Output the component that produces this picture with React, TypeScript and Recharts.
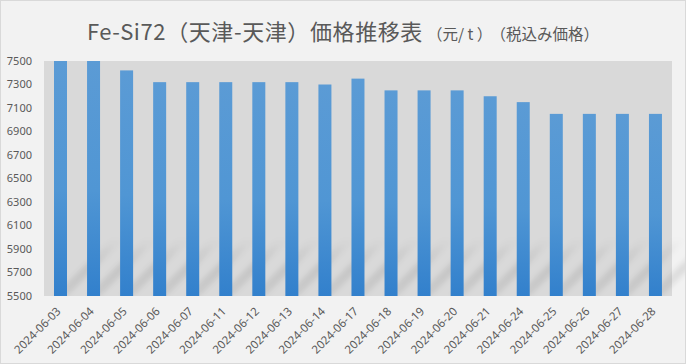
import { FC } from 'react';
import { BarChart, Bar, XAxis, YAxis, CartesianGrid } from 'recharts';

const dates = [
    '2024-06-03', '2024-06-04', '2024-06-05', '2024-06-06', '2024-06-07',
    '2024-06-11', '2024-06-12', '2024-06-13', '2024-06-14', '2024-06-17',
    '2024-06-18', '2024-06-19', '2024-06-20', '2024-06-21', '2024-06-24',
    '2024-06-25', '2024-06-26', '2024-06-27', '2024-06-28',
];
const prices = [
    7500, 7500, 7420, 7320, 7320, 7320, 7320, 7320, 7300, 7350,
    7250, 7250, 7250, 7200, 7150, 7050, 7050, 7050, 7050,
];
const yTicks = [5500, 5700, 5900, 6100, 6300, 6500, 6700, 6900, 7100, 7300, 7500];

const data = dates.map((date, i) => ({ date, price: prices[i] }));

const TEXT = '#595959';

const ShadowBar: FC<any> = ({ x, y, width, height }) => {
    const bottom = y + height;
    const L = 58;
    const pts = `${x},${bottom} ${x + width},${bottom} ${x + width + L},${bottom - L} ${x + L},${bottom - L}`;
    return (
        <g>
            <polygon points={pts} fill="url(#shadowFade)" filter="url(#softBlur)" />
            <rect x={x} y={y} width={width} height={height} fill="url(#barFill)" />
        </g>
    );
};

const DateTick: FC<any> = ({ x, y, payload }) => (
    <text
        x={x + 1}
        y={y + 8}
        fill={TEXT}
        fontSize={11.5}
        fontFamily="'Noto Sans', sans-serif"
        textAnchor="end"
        transform={`rotate(-45, ${x + 1}, ${y + 8})`}
    >
        {payload.value}
    </text>
);

const App: FC = () => {
    return (
        <div style={{ position: 'absolute', left: 0, top: 0, width: 686, height: 364, background: '#f2f2f2' }}>
            <div
                style={{
                    position: 'absolute',
                    left: 0,
                    top: 14,
                    width: 686,
                    textAlign: 'center',
                    color: TEXT,
                    fontFamily: "'Noto Sans CJK JP', sans-serif",
                    whiteSpace: 'nowrap',
                }}
            >
                <span style={{ fontSize: 22, letterSpacing: 0.6 }}>Fe-Si72（天津-天津）価格推移表</span>
                <span style={{ fontSize: 15.5, marginLeft: 4 }}>（元/ t ）</span>
                <span style={{ fontSize: 15.5, marginLeft: 6 }}>（税込み価格）</span>
            </div>
            <BarChart
                width={686}
                height={364}
                data={data}
                margin={{ top: 61, right: 14, bottom: 0, left: 0 }}
                barCategoryGap={10}
            >
                <defs>
                    <linearGradient id="barFill" x1="0" y1="0" x2="0" y2="1">
                        <stop offset="0%" stopColor="#5b9bd5" />
                        <stop offset="55%" stopColor="#5096d4" />
                        <stop offset="100%" stopColor="#3280cc" />
                    </linearGradient>
                    <linearGradient id="shadowFade" x1="0" y1="1" x2="0" y2="0">
                        <stop offset="0%" stopColor="#000" stopOpacity={0.07} />
                        <stop offset="50%" stopColor="#000" stopOpacity={0.09} />
                        <stop offset="100%" stopColor="#000" stopOpacity={0} />
                    </linearGradient>
                    <filter id="softBlur" x="-20%" y="-20%" width="140%" height="140%">
                        <feGaussianBlur stdDeviation="2.5" />
                    </filter>
                </defs>
                <CartesianGrid fill="#d9d9d9" horizontal={false} vertical={false} />
                <XAxis
                    dataKey="date"
                    height={68}
                    interval={0}
                    tickLine={false}
                    axisLine={false}
                    tick={<DateTick />}
                />
                <YAxis
                    width={44}
                    domain={[5500, 7500]}
                    ticks={yTicks}
                    allowDataOverflow
                    tickLine={false}
                    axisLine={false}
                    tickMargin={6}
                    tick={{ fill: TEXT, fontSize: 11, fontFamily: "'Noto Sans', sans-serif" }}
                />
                <Bar
                    dataKey="price"
                    barSize={13}
                    shape={<ShadowBar />}
                    isAnimationActive={false}
                />
            </BarChart>
            <div
                style={{
                    position: 'absolute',
                    left: 0,
                    top: 0,
                    width: 686,
                    height: 364,
                    boxSizing: 'border-box',
                    border: '1px solid #d9d9d9',
                    pointerEvents: 'none',
                }}
            />
        </div>
    );
};

export default App;
